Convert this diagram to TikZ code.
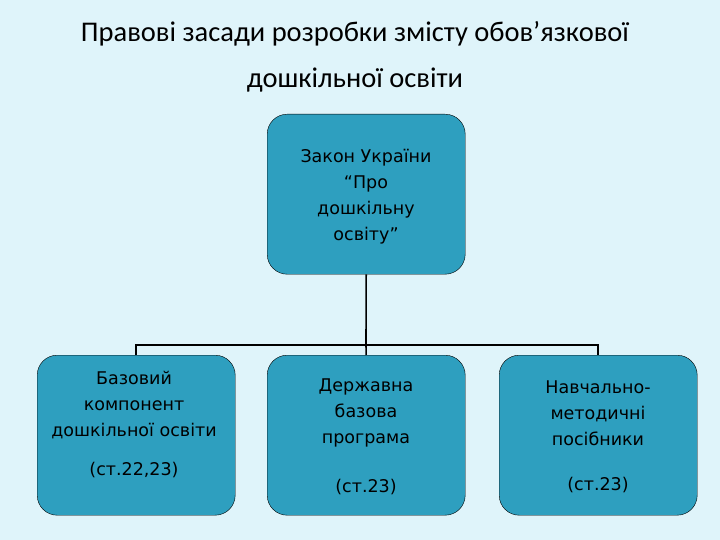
\documentclass[tikz,border=0pt]{standalone}
\usepackage{fontspec}
\setmainfont{DejaVu Sans}
\newfontfamily\titlefont{Carlito}
\definecolor{bg}{HTML}{DFF4FA}
\definecolor{boxc}{HTML}{2E9FBF}
\begin{document}
\begin{tikzpicture}[x=1pt,y=-1pt,
  card/.style={draw=black,thin,fill=boxc,rounded corners=20pt,minimum width=198pt,minimum height=160pt,anchor=north west},
  lbl/.style={align=center,font=\fontsize{17.5}{26}\selectfont},
  ttl/.style={font=\titlefont\fontsize{28.5}{30}\selectfont},
  wire/.style={draw=black,line width=1.6pt}]
\fill[bg] (0,0) rectangle (720,540);
\node[ttl] (t1) at (355,34) {Правові засади розробки змісту обов’язкової};
\node[ttl] (t2) at (355,80) {дошкільної освіти};
\node[card] (top) at (267,114) {};
\node[lbl] at (366,197) {Закон України\\“Про\\дошкільну\\освіту”};
\node[card] (b1) at (37,355) {};
\node[card] (b2) at (267,355) {};
\node[card] (b3) at (499,355) {};
\node[lbl] at (134,405) {Базовий\\компонент\\дошкільної освіти};
\node[lbl] at (134,470) {(ст.22,23)};
\node[lbl] at (366,413) {Державна\\базова\\програма};
\node[lbl] at (366,487) {(ст.23)};
\node[lbl] at (598,413) {Навчально-\\методичні\\посібники};
\node[lbl] at (598,485) {(ст.23)};
\coordinate (bus) at (366,345);
\draw[wire] (top.south) -- (bus);
\draw[wire] (b1.north) |- (bus) -| (b3.north);
\draw[wire] (bus) -- (b2.north);
\end{tikzpicture}
\end{document}
